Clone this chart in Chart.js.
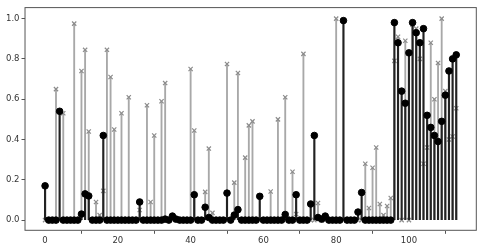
<!DOCTYPE html>
<html>
<head>
<meta charset="utf-8">
<script src="https://cdn.jsdelivr.net/npm/chart.js@4/dist/chart.umd.min.js"></script>
<style>
  html, body { margin: 0; padding: 0; background: #fff; }
  #wrap { width: 482px; height: 252px; }
</style>
</head>
<body>
<div id="wrap"><canvas id="stemChart"></canvas></div>
<script>
const xTicks = [0, 20, 40, 60, 80, 100];
const yTicks = [0.0, 0.2, 0.4, 0.6, 0.8, 1.0];

// black stems (circle markers), index 0..113
const darkValues = [
  0.17, 0, 0, 0, 0.54, 0, 0, 0, 0, 0,
  0.03, 0.13, 0.12, 0, 0, 0, 0.42, 0, 0, 0,
  0, 0, 0, 0, 0, 0, 0.09, 0, 0, 0,
  0, 0, 0, 0.005, 0, 0.02, 0.005, 0, 0, 0,
  0, 0.126, 0, 0, 0.064, 0.013, 0, 0, 0, 0,
  0.134, 0, 0.025, 0.052, 0, 0, 0, 0, 0, 0.118,
  0, 0, 0, 0, 0, 0, 0.028, 0, 0, 0.126,
  0, 0, 0, 0.08, 0.42, 0.013, 0.005, 0.02, 0, 0,
  0, 0, 0.99, 0, 0, 0, 0.04, 0.137, 0, 0,
  0, 0, 0, 0, 0, 0, 0.98, 0.88, 0.64, 0.58,
  0.83, 0.98, 0.93, 0.88, 0.95, 0.52, 0.46, 0.42, 0.39, 0.49,
  0.62, 0.74, 0.80, 0.82
];

// grey stems (x markers), index 0..113
const lightValues = [
  0, 0, 0, 0.65, 0, 0.53, 0, 0, 0.975, 0,
  0.74, 0.845, 0.44, 0, 0.09, 0.025, 0.145, 0.845, 0.71, 0.45,
  0, 0.53, 0, 0.61, 0, 0, 0.05, 0, 0.57, 0.09,
  0.42, 0, 0.59, 0.68, 0, 0, 0, 0, 0, 0,
  0.75, 0.445, 0, 0, 0.14, 0.355, 0.036, 0, 0, 0,
  0.775, 0, 0.186, 0.73, 0, 0.31, 0.47, 0.49, 0, 0,
  0, 0, 0.142, 0, 0.50, 0, 0.61, 0, 0.24, 0.03,
  0, 0.825, 0, 0, 0, 0.085, 0, 0, 0, 0,
  1.0, 0, 0, 0, 0, 0, 0, 0, 0.28, 0.06,
  0.26, 0.36, 0.08, 0.025, 0.07, 0.11, 0.79, 0.91, 0, 0.89,
  0, 0.97, 0.95, 0.80, 0.28, 0.36, 0.88, 0.60, 0.78, 1.0,
  0.64, 0.40, 0.415, 0.555
];

const toPoints = arr => arr.map((v, i) => ({ x: i, y: v }));

// matplotlib-like box around the axes
const framePlugin = {
  id: 'frame',
  afterDraw(chart) {
    const { ctx, chartArea: a } = chart;
    ctx.save();
    ctx.strokeStyle = '#555';
    ctx.lineWidth = 1;
    ctx.strokeRect(a.left + 0.5, a.top + 0.5, a.width - 1, a.height - 1);
    ctx.restore();
  }
};

const tickFont = { family: 'DejaVu Sans', size: 8.5 };

new Chart(document.getElementById('stemChart'), {
  type: 'bar',
  data: {
    datasets: [
      {
        type: 'scatter',
        data: toPoints(darkValues),
        pointStyle: 'circle',
        pointRadius: 3.3,
        backgroundColor: '#000',
        borderColor: '#000',
        order: 0
      },
      {
        data: toPoints(darkValues),
        backgroundColor: '#222',
        barThickness: 1.5,
        grouped: false,
        order: 1
      },
      {
        type: 'scatter',
        data: toPoints(lightValues),
        pointStyle: 'crossRot',
        pointRadius: 3,
        borderWidth: 1.2,
        borderColor: '#8c8c8c',
        order: 2
      },
      {
        data: toPoints(lightValues),
        backgroundColor: '#a8a8a8',
        barThickness: 1.2,
        grouped: false,
        order: 3
      }
    ]
  },
  options: {
    responsive: true,
    maintainAspectRatio: false,
    animation: false,
    layout: { padding: { left: 4, right: 5, top: 2, bottom: 4 } },
    plugins: { legend: { display: false }, tooltip: { enabled: false } },
    scales: {
      x: {
        type: 'linear',
        offset: false,
        min: -5.65,
        max: 118.65,
        afterBuildTicks: axis => { axis.ticks = xTicks.map(v => ({ value: v })); },
        ticks: { font: tickFont, color: '#333', padding: 2, maxRotation: 0 },
        grid: { drawOnChartArea: false, drawTicks: true, tickLength: 3, color: '#555' },
        border: { display: false }
      },
      y: {
        min: -0.053,
        max: 1.057,
        afterBuildTicks: axis => { axis.ticks = yTicks.map(v => ({ value: v })); },
        ticks: { font: tickFont, color: '#333', padding: 2, callback: v => v.toFixed(1) },
        grid: { drawOnChartArea: false, drawTicks: true, tickLength: 3, color: '#555' },
        border: { display: false }
      }
    }
  },
  plugins: [framePlugin]
});
</script>
</body>
</html>
